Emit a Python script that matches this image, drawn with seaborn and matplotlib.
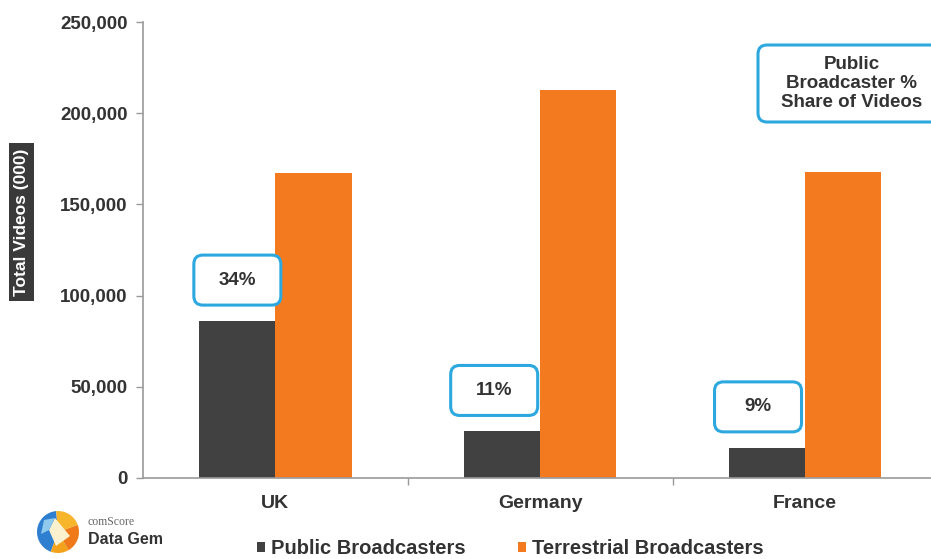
import matplotlib
matplotlib.use("Agg")
import matplotlib.pyplot as plt
import matplotlib.transforms as mtransforms
from matplotlib.patches import FancyBboxPatch, Wedge, Polygon
from matplotlib.ticker import FuncFormatter, FixedLocator
import pandas as pd
import seaborn as sns

# Total videos viewed (thousands) by broadcaster type
countries = ["UK", "Germany", "France"]
public_videos = [86000, 25500, 16500]
terrestrial_videos = [167300, 212600, 167800]
series = ["Public Broadcasters", "Terrestrial Broadcasters"]
y_ticks = [0, 50000, 100000, 150000, 200000, 250000]

DARK = "#414141"
ORANGE = "#F47A20"
BLUE = "#2DA8DF"
TEXT = "#333333"

df = pd.DataFrame({
    "country": countries * 2,
    "videos": public_videos + terrestrial_videos,
    "type": [series[0]] * len(countries) + [series[1]] * len(countries),
})

sns.set_theme(style="white")
plt.rcParams["font.family"] = ["Liberation Sans", "DejaVu Sans"]
plt.rcParams["font.weight"] = "bold"

W, H = 931, 559
fig = plt.figure(figsize=(W / 100, H / 100), dpi=100)
fig.patch.set_facecolor("white")
ax = fig.add_axes([143 / W, 1 - 478 / H, (937.5 - 143) / W, (478 - 22) / H])

sns.barplot(data=df, x="country", y="videos", hue="type",
            palette=[DARK, ORANGE], width=0.575, saturation=1,
            linewidth=0, ax=ax)

ax.set_xlim(-0.5, 2.5)
ax.set_ylim(0, 250000)
ax.set_yticks(y_ticks)
ax.yaxis.set_major_formatter(FuncFormatter(lambda v, _: f"{int(v):,}"))
ax.tick_params(axis="y", which="major", direction="out", length=5, width=1,
               color="#999999", labelsize=13.5, labelcolor=TEXT, pad=6,
               left=True)
ax.tick_params(axis="x", which="major", length=0, labelsize=14,
               labelcolor=TEXT, pad=12)
ax.xaxis.set_minor_locator(FixedLocator([0.5, 1.5]))
ax.tick_params(axis="x", which="minor", direction="out", length=5, width=1,
               color="#999999", bottom=True)
for lbl in ax.get_xticklabels() + ax.get_yticklabels():
    lbl.set_fontweight("bold")
ax.set_xlabel("")
ax.set_ylabel("")
for side in ("top", "right"):
    ax.spines[side].set_visible(False)
for side in ("left", "bottom"):
    ax.spines[side].set_color("#9a9a9a")
    ax.spines[side].set_linewidth(1.2)
ax.grid(False)

# Y-axis title on a dark band
fig.text(21.5 / W, 1 - 222 / H, "Total Videos (000)", rotation=90,
         ha="center", va="center", color="white", fontsize=12.5,
         fontweight="bold",
         bbox=dict(boxstyle="square,pad=0.3", facecolor="#3a3a3a",
                   edgecolor="none"))

# Legend below the plot
sns.move_legend(ax, "center", bbox_to_anchor=(510 / W, 1 - 549 / H),
                bbox_transform=fig.transFigure, ncol=2, frameon=False,
                title=None, fontsize=14.5, handlelength=0.4,
                handleheight=0.4, handletextpad=0.3, columnspacing=2.6)
for t in ax.get_legend().get_texts():
    t.set_color(TEXT)
    t.set_fontweight("bold")

px = mtransforms.IdentityTransform()


def callout(cx, cy, w, h, text, **kw):
    """Rounded blue-outlined box centred at (cx, cy) in figure pixels."""
    box = FancyBboxPatch((cx - w / 2, cy - h / 2), w, h,
                         boxstyle="round,pad=0,rounding_size=9",
                         facecolor="white", edgecolor=BLUE, linewidth=2.2,
                         transform=px, zorder=5)
    fig.add_artist(box)
    fig.text(cx / W, cy / H, text, ha="center", va="center", color=TEXT,
             fontweight="bold", zorder=6, **kw)


# Share-of-videos callouts above the public broadcaster bars
fig.canvas.draw()
bar_offsets = [0, -8, -9]
for i, (pub, ter) in enumerate(zip(public_videos, terrestrial_videos)):
    share = round(100 * pub / (pub + ter))
    bx, by = ax.transData.transform((i - 0.14375, pub + 22500))
    callout(bx + bar_offsets[i], by, 87, 50, f"{share}%", fontsize=13.5)

# Key box explaining the callouts (runs past the right edge)
callout(852, H - 83.5, 188, 77,
        "Public\nBroadcaster %\nShare of Videos", fontsize=13.5,
        linespacing=1.15)

# comScore Data Gem mark
cx, cy, r = 58, H - 532, 21
for t1, t2, col in [(95, 250, "#2f7fd0"), (250, 300, "#f3a21c"),
                    (300, 380, "#f07a1a"), (20, 95, "#f6b52a")]:
    fig.add_artist(Wedge((cx, cy), r, t1, t2, facecolor=col,
                         edgecolor="none", transform=px))
fig.add_artist(Polygon([(cx - 3, cy + 14), (cx + 12, cy - 4),
                        (cx - 2, cy - 14), (cx - 9, cy + 2)],
                       closed=True, facecolor="#fbf1cf", edgecolor="none",
                       transform=px))
fig.add_artist(Polygon([(cx - 14, cy + 12), (cx - 3, cy + 14),
                        (cx - 9, cy + 2), (cx - 17, cy - 2)],
                       closed=True, facecolor="#8fc9ee", edgecolor="none",
                       transform=px))
fig.text(88 / W, 1 - 522 / H, "comScore", ha="left", va="center",
         color="#666666", fontsize=8.5, fontweight="normal",
         family=["Liberation Serif", "DejaVu Serif"])
fig.text(88 / W, 1 - 539 / H, "Data Gem", ha="left", va="center",
         color=TEXT, fontsize=11.5, fontweight="bold")

fig.savefig("out.png", dpi=100, facecolor="white")
